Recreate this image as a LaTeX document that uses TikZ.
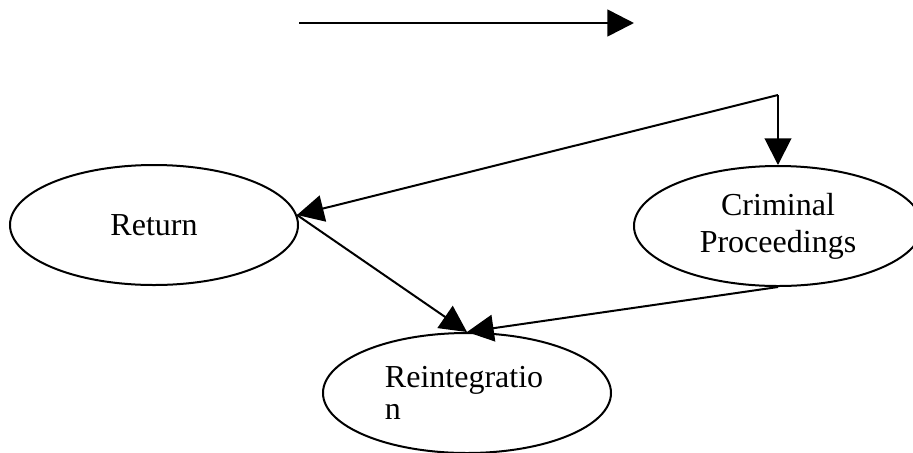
\documentclass[tikz,border=0pt]{standalone}
\usepackage{fontspec}
\setmainfont{Liberation Serif}
\usetikzlibrary{shapes.geometric, arrows.meta}

\begin{document}
\begin{tikzpicture}[x=0.375pt, y=-0.375pt,
        event/.style={draw, ellipse, line width=0.75pt, minimum width=108pt, minimum height=45pt,
            inner sep=0pt, align=center, font=\fontsize{12}{13.9}\selectfont}]
        \useasboundingbox (0,0) rectangle (913,452);
        \node (ret) [event] at (154,225) {Return};
        \node (cp) [event] at (778,226) {Criminal\\Proceedings};
        \node (reint) [event, align=left, text width=61.5pt, font=\fontsize{12}{12}\selectfont] at (467,393) {Reintegratio\\n};
        \coordinate (s0) at (299,23);
        \coordinate (s1) at (634,23);
        \coordinate (bend) at (778,95);
        \draw [-{Triangle[length=10pt,width=10pt]}, line width=1pt] (s0) -- (s1);
        \path [-{Triangle[length=10pt,width=10pt]}, line width=0.75pt]
            (bend) edge (ret.4)
            (bend) edge (cp.north)
            (ret.4) edge (reint.north)
            (cp.south) edge (reint.north)
            ;
    \end{tikzpicture}
\end{document}
